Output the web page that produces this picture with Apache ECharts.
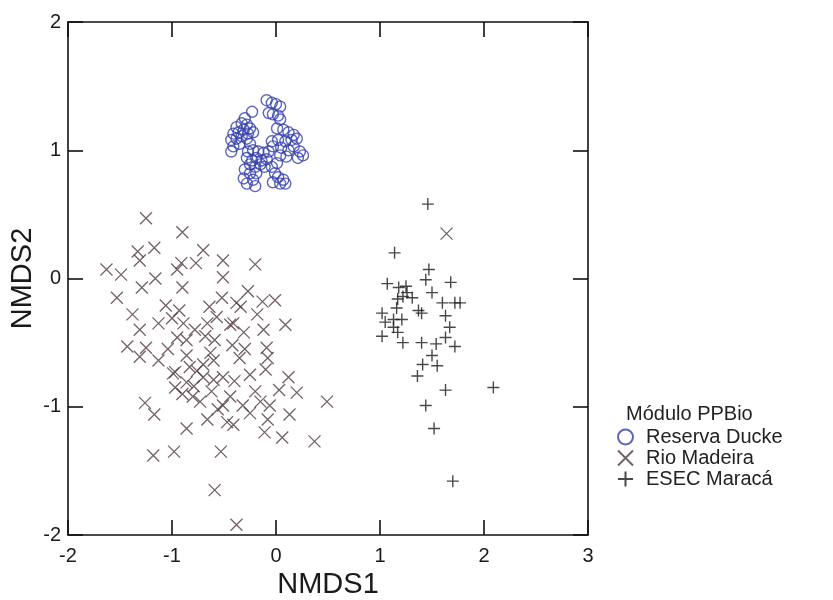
<!DOCTYPE html>
<html>
<head>
<meta charset="utf-8">
<script src="https://cdn.jsdelivr.net/npm/echarts@6/dist/echarts.min.js"></script>
<style>
  html, body { margin: 0; padding: 0; background: #fff; }
  #main { width: 833px; height: 600px; }
</style>
</head>
<body>
<div id="main"></div>
<script>
  // ordination scores
  var duckePts = [
    [-0.09,1.39],[-0.04,1.37],[0.00,1.36],[0.04,1.34],[-0.07,1.29],[-0.03,1.28],[0.02,1.27],[0.04,1.24],[-0.23,1.30],[-0.30,1.25],
    [-0.38,1.18],[-0.33,1.21],[-0.28,1.20],[-0.25,1.17],[-0.41,1.13],[-0.36,1.14],[-0.31,1.16],[-0.27,1.13],[-0.43,1.08],[-0.38,1.09],
    [-0.33,1.11],[-0.28,1.09],[-0.41,1.03],[-0.35,1.05],[-0.43,0.99],[-0.25,1.05],[-0.22,1.14],
    [0.01,1.17],[0.07,1.16],[0.12,1.14],[0.17,1.12],[-0.04,1.07],[0.02,1.08],[0.09,1.07],[0.15,1.08],[0.20,1.09],[-0.03,1.03],
    [0.05,1.02],[0.12,1.00],[0.17,1.03],[0.23,0.99],[0.26,0.96],[0.21,0.94],[0.10,0.95],[0.04,0.96],
    [-0.27,0.99],[-0.22,1.00],[-0.17,0.99],[-0.12,0.98],[-0.07,0.99],[-0.28,0.94],[-0.23,0.92],[-0.19,0.94],[-0.14,0.92],[-0.09,0.93],
    [-0.25,0.89],[-0.20,0.87],[-0.15,0.89],[-0.11,0.87],[-0.30,0.85],[-0.25,0.82],[-0.19,0.82],[-0.31,0.78],[-0.22,0.77],[-0.28,0.74],
    [-0.20,0.72],[-0.04,0.87],[-0.01,0.82],[0.02,0.79],[0.07,0.77],[-0.03,0.75],[0.04,0.74],[0.09,0.74],[0.01,0.90]
  ];
  var madeiraPts = [
    [-1.25,0.47],[-0.90,0.36],[-1.33,0.21],[-1.17,0.24],[-1.31,0.14],[-0.70,0.22],[-0.77,0.12],[-0.51,0.14],[-1.63,0.07],[-1.49,0.03],
    [-1.16,0.00],[-1.29,-0.07],[-0.95,0.07],[-0.91,0.12],[-0.90,-0.07],[-0.51,0.01],[-0.52,-0.15],[-1.53,-0.15],[-1.38,-0.28],[-1.06,-0.21],
    [-0.93,-0.25],[-1.13,-0.35],[-1.31,-0.40],[-1.43,-0.53],[-0.89,-0.35],[-0.66,-0.35],[-0.57,-0.30],[-0.44,-0.36],[-0.95,-0.46],[-0.86,-0.48],
    [-1.25,-0.54],[-1.31,-0.61],[-1.13,-0.64],[-0.59,-0.48],[-0.42,-0.52],[-0.63,-0.58],[-0.97,-0.73],[-0.83,-0.69],[-0.70,-0.67],[-0.51,-0.77],
    [-0.99,-0.74],[-0.97,-0.85],[-0.86,-0.81],[-0.70,-0.77],[-0.80,-0.92],[-0.73,-0.96],[-0.44,-0.92],[-0.51,-0.99],[-1.26,-0.97],[-1.17,-1.06],
    [-0.66,-1.10],[-0.86,-1.17],[-0.47,-1.12],[-0.41,-1.14],[-1.18,-1.38],[-0.98,-1.35],[-0.53,-1.35],[-0.59,-1.65],[-0.38,-1.92],
    [-0.20,0.11],[-0.27,-0.10],[-0.34,-0.22],[-0.13,-0.18],[-0.01,-0.17],[-0.31,-0.42],[-0.12,-0.40],[0.09,-0.36],[-0.09,-0.54],[-0.08,-0.62],
    [-0.10,-0.71],[-0.25,-0.75],[0.12,-0.77],[-0.20,-0.88],[0.03,-0.87],[0.20,-0.89],[0.49,-0.96],[-0.32,-0.99],[-0.06,-0.99],[-0.25,-1.05],
    [0.13,-1.06],[-0.08,-1.10],[-0.11,-1.20],[0.06,-1.24],[0.37,-1.27],[-0.38,-0.19],[-0.41,-0.35],[1.64,0.35],
    [-0.60,-0.64],[-0.86,-0.60],[-0.76,-0.72],[-0.79,-0.84],[-0.90,-0.90],[-0.62,-0.88],[-0.68,-0.45],[-0.78,-0.40],[-0.64,-0.22],
    [-1.04,-0.55],[-0.56,-1.02],[-0.60,-0.79],[-0.35,-0.62],[-0.40,-0.80],[-1.00,-0.31],[-0.18,-0.28],[-0.15,-0.96],[-0.30,-0.55]
  ];
  var maracaPts = [
    [1.46,0.58],[1.14,0.20],[1.47,0.07],[1.07,-0.04],[1.18,-0.07],[1.25,-0.06],[1.44,-0.01],[1.68,-0.03],[1.26,-0.11],[1.31,-0.15],
    [1.50,-0.11],[1.17,-0.16],[1.22,-0.14],[1.60,-0.19],[1.72,-0.19],[1.77,-0.19],[1.02,-0.27],[1.16,-0.23],[1.37,-0.25],[1.40,-0.27],
    [1.05,-0.34],[1.13,-0.32],[1.21,-0.32],[1.63,-0.29],[1.13,-0.38],[1.17,-0.42],[1.67,-0.38],[1.02,-0.45],[1.22,-0.50],[1.40,-0.50],
    [1.54,-0.51],[1.72,-0.53],[1.63,-0.46],[1.50,-0.60],[1.41,-0.67],[1.55,-0.68],[1.36,-0.76],[1.63,-0.87],[2.09,-0.85],[1.44,-0.99],
    [1.52,-1.17],[1.70,-1.58]
  ];
  var groupNames = ['Reserva Ducke', 'Rio Madeira', 'ESEC Maracá'];

  var FONT = 'Liberation Sans, Arial, sans-serif';
  var axisLine = { onZero: false, lineStyle: { color: '#111', width: 1.6 } };
  var tick = { inside: true, length: 15, lineStyle: { color: '#111', width: 1.6 } };

  var chart = echarts.init(document.getElementById('main'));
  chart.setOption({
    backgroundColor: '#fff',
    animation: false,
    textStyle: { fontFamily: FONT },
    title: {
      text: 'Módulo PPBio',
      left: 621, top: 399,
      textStyle: { fontFamily: FONT, fontSize: 20, fontWeight: 'normal', color: '#222' }
    },
    legend: {
      data: groupNames,
      orient: 'vertical',
      left: 612, top: 422,
      itemWidth: 15, itemHeight: 15, itemGap: 1,
      textStyle: { fontFamily: FONT, fontSize: 20, color: '#222', lineHeight: 20, padding: [0, 0, 0, 8] }
    },
    grid: { left: 68, right: 245, top: 22, bottom: 65, containLabel: false, outerBoundsMode: 'none' },
    xAxis: [
      {
        type: 'value', min: -2, max: 3, interval: 1, position: 'bottom',
        axisLine: axisLine, axisTick: tick, splitLine: { show: false },
        axisLabel: { fontFamily: FONT, fontSize: 20, color: '#1a1a1a', margin: 11 },
        name: 'NMDS1', nameLocation: 'middle', nameGap: 34,
        nameTextStyle: { fontFamily: FONT, fontSize: 29, color: '#1a1a1a' }
      },
      {
        type: 'value', min: -2, max: 3, interval: 1, position: 'top',
        axisLine: axisLine, axisTick: tick, splitLine: { show: false },
        axisLabel: { show: false }
      }
    ],
    yAxis: [
      {
        type: 'value', min: -2, max: 2, interval: 1, position: 'left',
        axisLine: axisLine, axisTick: tick, splitLine: { show: false },
        axisLabel: { fontFamily: FONT, fontSize: 20, color: '#1a1a1a', margin: 7 },
        name: 'NMDS2', nameLocation: 'middle', nameGap: 31, nameMoveOverlap: false,
        nameTextStyle: { fontFamily: FONT, fontSize: 29, color: '#1a1a1a' }
      },
      {
        type: 'value', min: -2, max: 2, interval: 1, position: 'right',
        axisLine: axisLine, axisTick: tick, splitLine: { show: false },
        axisLabel: { show: false }
      }
    ],
    series: [
      {
        name: groupNames[0], type: 'scatter', data: duckePts,
        symbol: 'circle', symbolSize: 11,
        itemStyle: { color: 'rgba(0,0,0,0)', borderColor: '#3440ac', borderWidth: 1.4 }
      },
      {
        name: groupNames[1], type: 'scatter', data: madeiraPts,
        symbol: 'path://M0,0L10,10M10,0L0,10', symbolSize: 12,
        itemStyle: { color: 'rgba(0,0,0,0)', borderColor: '#4f3a40', borderWidth: 1.3 }
      },
      {
        name: groupNames[2], type: 'scatter', data: maracaPts,
        symbol: 'path://M5,0L5,10M0,5L10,5', symbolSize: 12,
        itemStyle: { color: 'rgba(0,0,0,0)', borderColor: '#1a1a1a', borderWidth: 1.4 }
      }
    ]
  });
</script>
</body>
</html>
